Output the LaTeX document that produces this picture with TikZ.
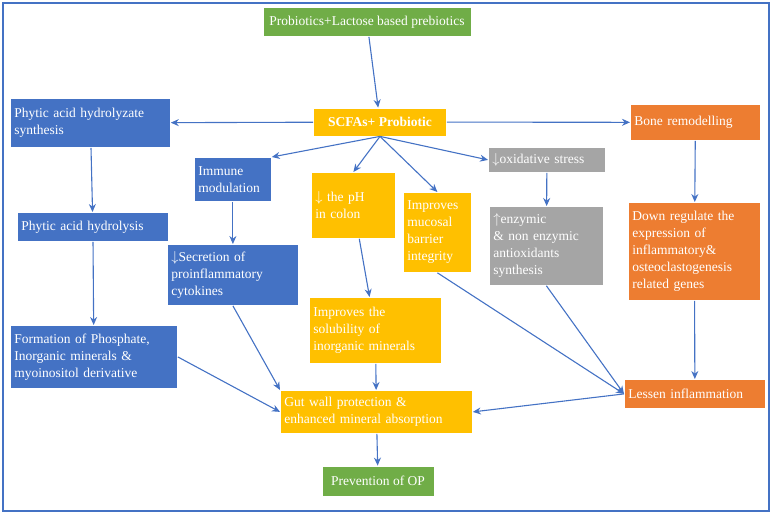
\documentclass[tikz,border=0pt]{standalone}
\usepackage{fontspec}
\setmainfont{Liberation Serif}
\usetikzlibrary{arrows.meta}
\definecolor{bl}{HTML}{4472C4}
\definecolor{yl}{HTML}{FFC000}
\definecolor{og}{HTML}{ED7D31}
\definecolor{gr}{HTML}{A5A5A5}
\definecolor{gn}{HTML}{70AD47}
\begin{document}
\begin{tikzpicture}[x=1pt,y=-1pt,
 box/.style={draw=white,line width=0.8pt,text=white,font=\fontsize{13.5}{17}\selectfont,align=left,inner sep=4pt,anchor=north west},
 B/.style={box,fill=bl},Y/.style={box,fill=yl},O/.style={box,fill=og},G/.style={box,fill=gr},N/.style={box,fill=gn},
 ar/.style={draw=bl,line width=1.1pt,-{Stealth[length=8pt,width=7pt]}}]
\useasboundingbox (0,0) rectangle (773,515);
\draw[bl,line width=1.3pt] (3,3) rectangle (769,511);
\node[N,minimum width=208,minimum height=29,align=center,anchor=center] (top) at (367,22) {Probiotics+Lactose based prebiotics};
\node[Y,minimum width=133,minimum height=28,anchor=center,align=center,font=\bfseries\fontsize{13.5}{17}\selectfont] (sc) at (380,122) {SCFAs+ Probiotic};
\node[B,text width=152,minimum height=49] (ps) at (10,98) {Phytic acid hydrolyzate\\synthesis};
\node[O,text width=122,minimum height=36] (br) at (630,104) {Bone remodelling};
\node[B,text width=69,minimum height=44] (im) at (194,157) {Immune\\modulation};
\node[Y,text width=76,minimum height=66] (ph) at (311,172) {$\downarrow$ the pH\\in colon};
\node[Y,text width=60,minimum height=80] (mu) at (403,192) {Improves\\mucosal\\barrier\\integrity};
\node[G,text width=109,minimum height=25] (ox) at (488,147) {$\downarrow$oxidative stress};
\node[G,text width=106,minimum height=79] (en) at (489,206) {$\uparrow$enzymic\\\& non enzymic\\antioxidants\\synthesis};
\node[O,text width=124,minimum height=98] (dr) at (628,202) {Down regulate the\\expression of\\inflammatory\&\\osteoclastogenesis\\related genes};
\node[B,text width=143,minimum height=29] (hy) at (17,212) {Phytic acid hydrolysis};
\node[B,text width=123,minimum height=61] (se) at (167,244) {$\downarrow$Secretion of\\proinflammatory\\cytokines};
\node[Y,text width=124,minimum height=66] (so) at (309,297) {Improves the\\solubility of\\inorganic minerals};
\node[B,text width=159,minimum height=63] (fo) at (10,325) {Formation of Phosphate,\\Inorganic minerals \&\\ myoinositol derivative};
\node[Y,text width=184,minimum height=43] (gw) at (280,390) {Gut wall protection \&\\enhanced mineral absorption};
\node[O,text width=133,minimum height=29] (le) at (624,379) {Lessen inflammation};
\node[N,minimum width=112,minimum height=30,anchor=center,align=center] (pr) at (378,481) {Prevention of OP};
\draw[ar] (top) -- (sc);
\draw[ar] (sc) -- (ps);
\draw[ar] (sc) -- (br);
\draw[ar] (sc.south) -- (im.north east);
\draw[ar] (sc.south) -- (ph.north);
\draw[ar] (sc.south) -- (mu.north);
\draw[ar] (sc.south) -- (ox.west);
\draw[ar] (ps) -- (hy);
\draw[ar] (hy) -- (fo);
\draw[ar] (fo.east) -- (gw.west);
\draw[ar] (im) -- (se);
\draw[ar] (se.south) -- (gw.north west);
\draw[ar] (ph) -- (so);
\draw[ar] (so) -- (gw);
\draw[ar] (mu.south) -- (le.west);
\draw[ar] (ox) -- (en);
\draw[ar] (en.south) -- (le.west);
\draw[ar] (br) -- (dr);
\draw[ar] (dr) -- (le);
\draw[ar] (le.west) -- (gw.east);
\draw[ar] (gw) -- (pr);
\end{tikzpicture}
\end{document}
